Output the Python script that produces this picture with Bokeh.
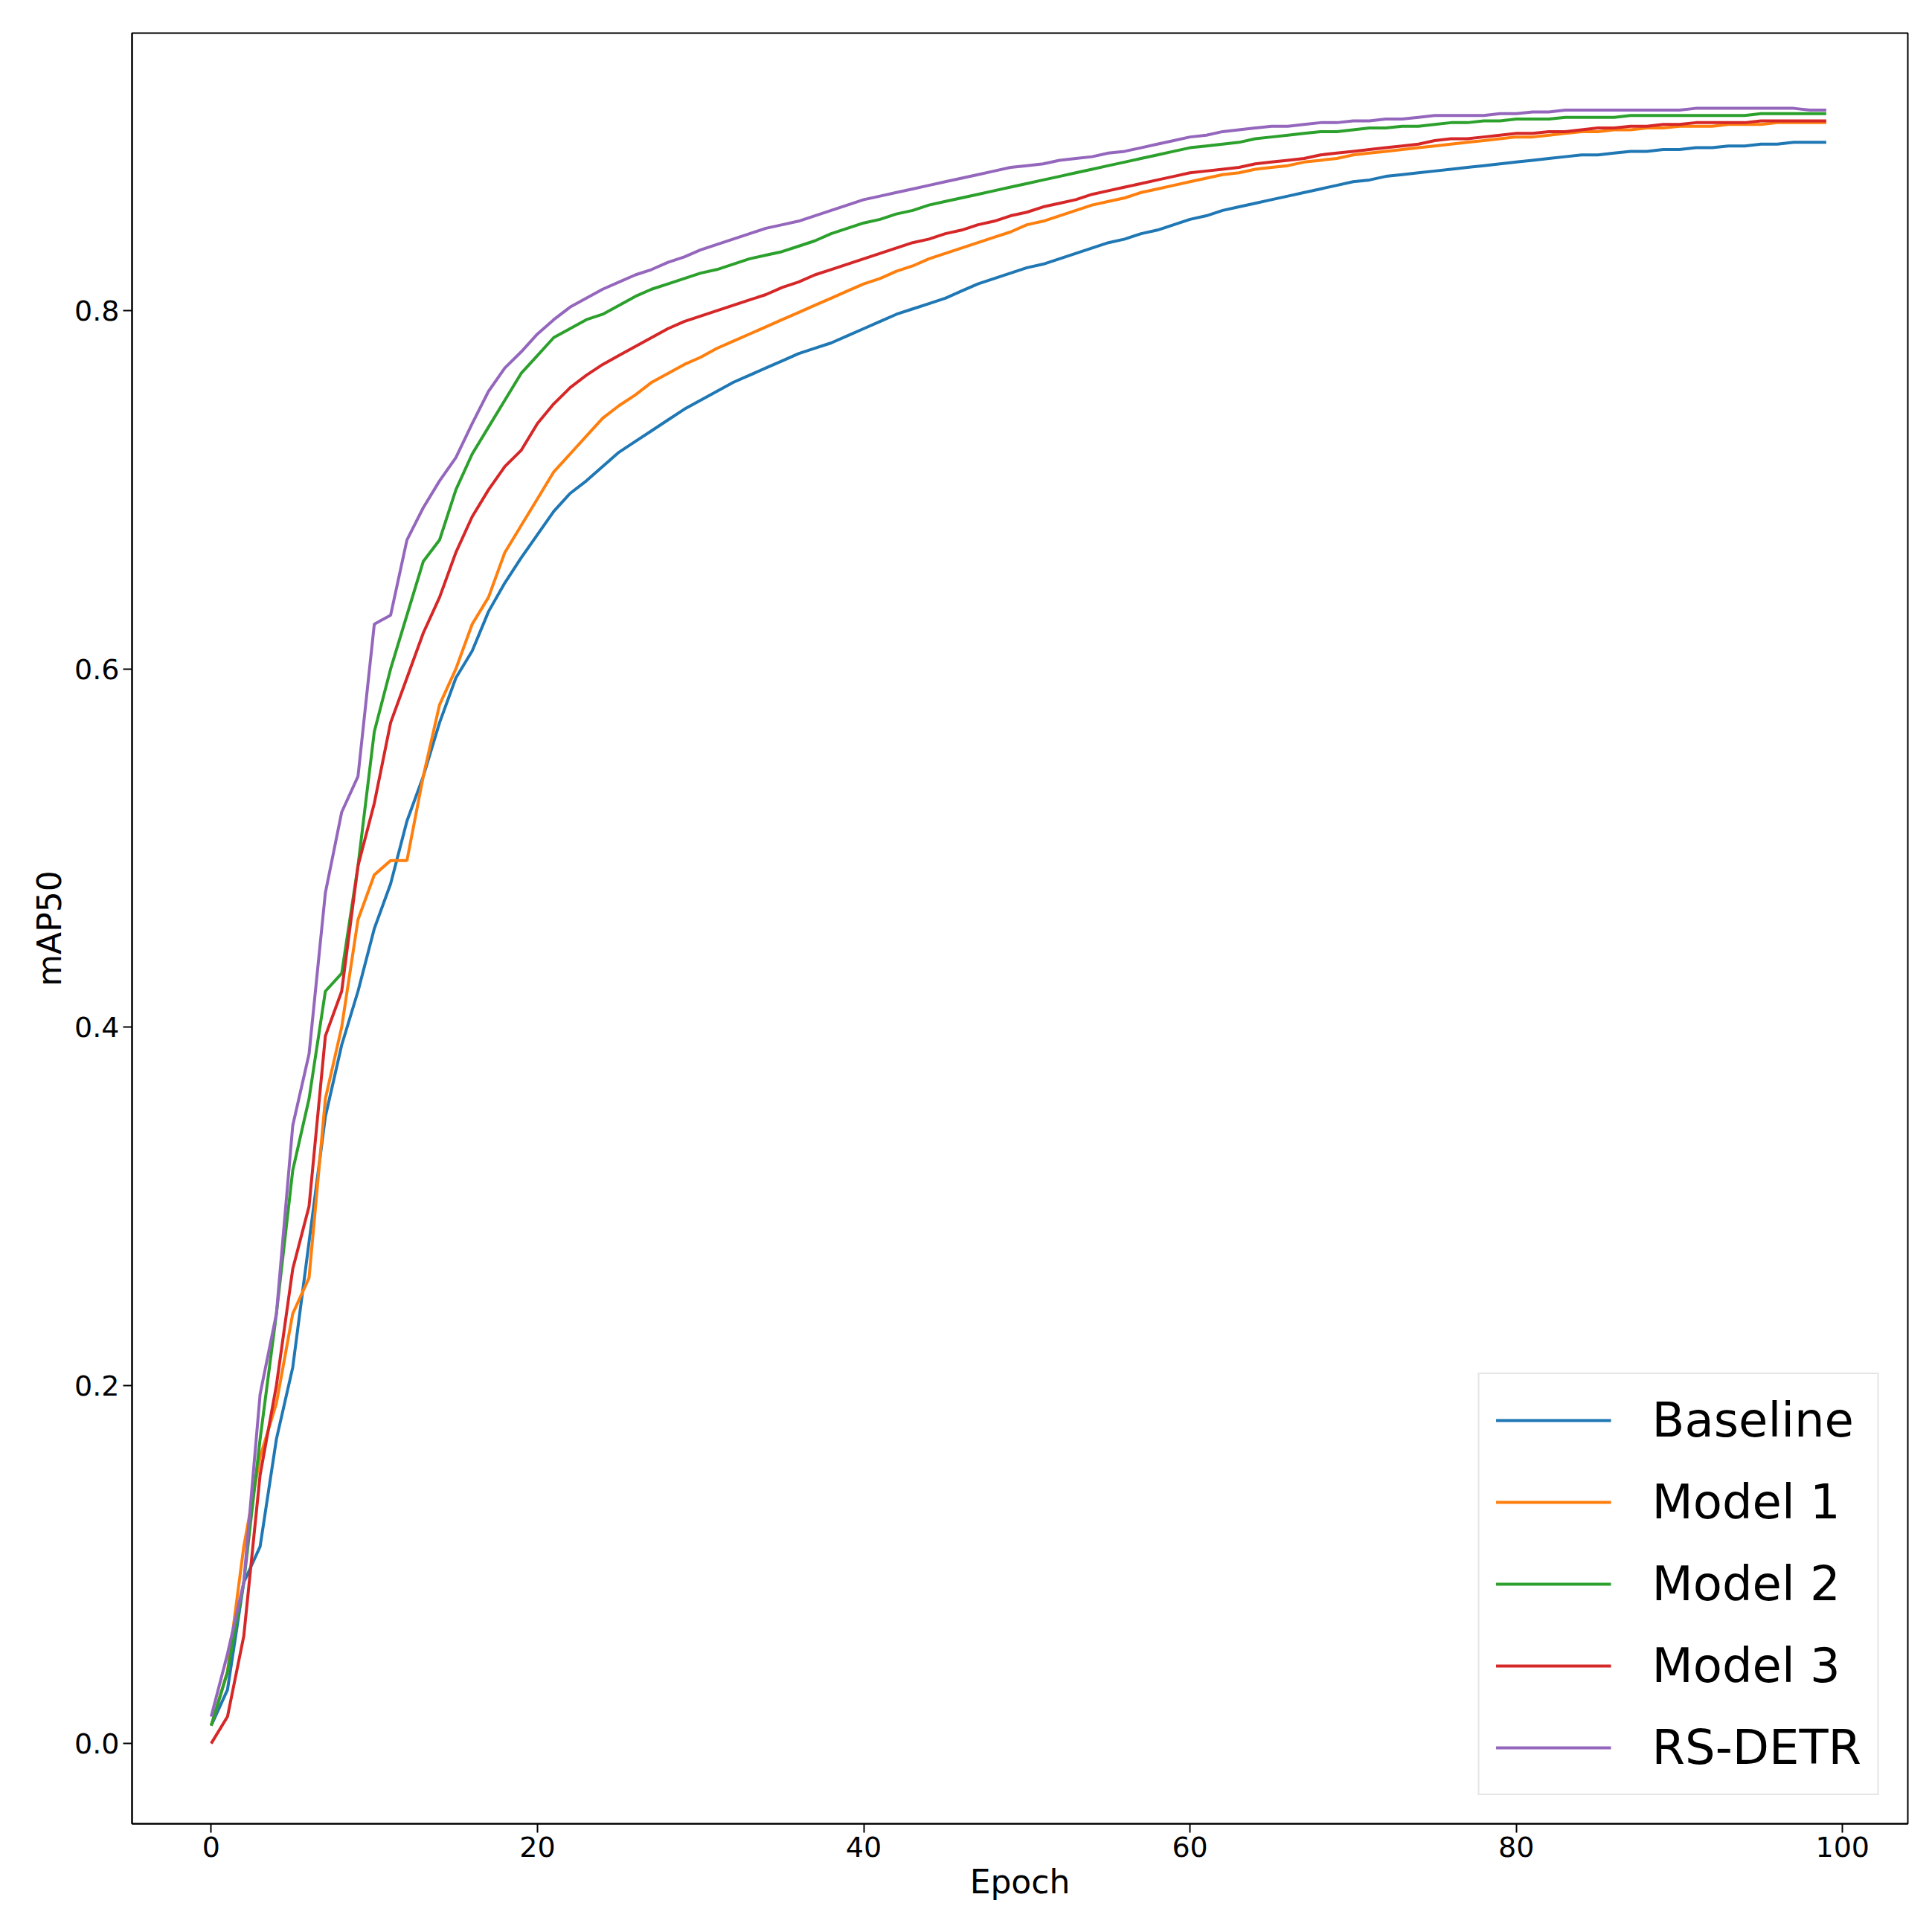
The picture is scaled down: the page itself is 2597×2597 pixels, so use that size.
from bokeh.plotting import figure
from bokeh.models import Range1d, Legend, LegendItem, FixedTicker, CustomJSTickFormatter
from bokeh.embed import file_html
from bokeh.resources import INLINE

epochs = list(range(100))
baseline = [0.010,0.030,0.090,0.110,0.170,0.210,0.280,0.350,0.390,0.420,
0.455,0.480,0.515,0.540,0.570,0.595,0.610,0.632,0.648,0.662,
0.675,0.688,0.698,0.705,0.713,0.721,0.727,0.733,0.739,0.745,
0.750,0.755,0.760,0.764,0.768,0.772,0.776,0.779,0.782,0.786,
0.790,0.794,0.798,0.801,0.804,0.807,0.811,0.815,0.818,0.821,
0.824,0.826,0.829,0.832,0.835,0.838,0.840,0.843,0.845,0.848,
0.851,0.853,0.856,0.858,0.860,0.862,0.864,0.866,0.868,0.870,
0.872,0.873,0.875,0.876,0.877,0.878,0.879,0.880,0.881,0.882,
0.883,0.884,0.885,0.886,0.887,0.887,0.888,0.889,0.889,0.890,
0.890,0.891,0.891,0.892,0.892,0.893,0.893,0.894,0.894,0.894]
model1 = [0.010,0.040,0.110,0.160,0.190,0.240,0.260,0.360,0.400,0.460,
0.485,0.493,0.493,0.540,0.580,0.600,0.625,0.640,0.665,0.680,
0.695,0.710,0.720,0.730,0.740,0.747,0.753,0.760,0.765,0.770,
0.774,0.779,0.783,0.787,0.791,0.795,0.799,0.803,0.807,0.811,
0.815,0.818,0.822,0.825,0.829,0.832,0.835,0.838,0.841,0.844,
0.848,0.850,0.853,0.856,0.859,0.861,0.863,0.866,0.868,0.870,
0.872,0.874,0.876,0.877,0.879,0.880,0.881,0.883,0.884,0.885,
0.887,0.888,0.889,0.890,0.891,0.892,0.893,0.894,0.895,0.896,
0.897,0.897,0.898,0.899,0.900,0.900,0.901,0.901,0.902,0.902,
0.903,0.903,0.903,0.904,0.904,0.904,0.905,0.905,0.905,0.905]
model2 = [0.010,0.040,0.090,0.170,0.240,0.320,0.360,0.420,0.430,0.490,
0.565,0.600,0.630,0.660,0.672,0.700,0.720,0.735,0.750,0.765,
0.775,0.785,0.790,0.795,0.798,0.803,0.808,0.812,0.815,0.818,
0.821,0.823,0.826,0.829,0.831,0.833,0.836,0.839,0.843,0.846,
0.849,0.851,0.854,0.856,0.859,0.861,0.863,0.865,0.867,0.869,
0.871,0.873,0.875,0.877,0.879,0.881,0.883,0.885,0.887,0.889,
0.891,0.892,0.893,0.894,0.896,0.897,0.898,0.899,0.900,0.900,
0.901,0.902,0.902,0.903,0.903,0.904,0.905,0.905,0.906,0.906,
0.907,0.907,0.907,0.908,0.908,0.908,0.908,0.909,0.909,0.909,
0.909,0.909,0.909,0.909,0.909,0.910,0.910,0.910,0.910,0.910]
model3 = [0.000,0.015,0.060,0.150,0.200,0.265,0.300,0.395,0.420,0.490,
0.525,0.570,0.595,0.620,0.640,0.665,0.685,0.700,0.713,0.722,
0.737,0.748,0.757,0.764,0.770,0.775,0.780,0.785,0.790,0.794,
0.797,0.800,0.803,0.806,0.809,0.813,0.816,0.820,0.823,0.826,
0.829,0.832,0.835,0.838,0.840,0.843,0.845,0.848,0.850,0.853,
0.855,0.858,0.860,0.862,0.865,0.867,0.869,0.871,0.873,0.875,
0.877,0.878,0.879,0.880,0.882,0.883,0.884,0.885,0.887,0.888,
0.889,0.890,0.891,0.892,0.893,0.895,0.896,0.896,0.897,0.898,
0.899,0.899,0.900,0.900,0.901,0.902,0.902,0.903,0.903,0.904,
0.904,0.905,0.905,0.905,0.905,0.906,0.906,0.906,0.906,0.906]
rsdetr = [0.015,0.050,0.090,0.195,0.240,0.345,0.385,0.475,0.520,0.540,
0.625,0.630,0.672,0.690,0.705,0.718,0.737,0.755,0.768,0.777,
0.787,0.795,0.802,0.807,0.812,0.816,0.820,0.823,0.827,0.830,
0.834,0.837,0.840,0.843,0.846,0.848,0.850,0.853,0.856,0.859,
0.862,0.864,0.866,0.868,0.870,0.872,0.874,0.876,0.878,0.880,
0.881,0.882,0.884,0.885,0.886,0.888,0.889,0.891,0.893,0.895,
0.897,0.898,0.900,0.901,0.902,0.903,0.903,0.904,0.905,0.905,
0.906,0.906,0.907,0.907,0.908,0.909,0.909,0.909,0.909,0.910,
0.910,0.911,0.911,0.912,0.912,0.912,0.912,0.912,0.912,0.912,
0.912,0.913,0.913,0.913,0.913,0.913,0.913,0.913,0.912,0.912]

names = ["Baseline", "Model 1", "Model 2", "Model 3", "RS-DETR"]
series = [baseline, model1, model2, model3, rsdetr]
colors = ["#1f77b4", "#ff7f0e", "#2ca02c", "#d62728", "#9467bd"]

p = figure(width=2580, height=2580, output_backend="svg", toolbar_location=None,
           x_range=Range1d(-4.85, 104.0), y_range=Range1d(-0.0448, 0.955))
p.min_border_left = 177
p.min_border_right = 16
p.min_border_top = 44
p.min_border_bottom = 129
p.grid.visible = False
p.outline_line_color = "black"
p.outline_line_width = 2
p.xaxis.ticker = FixedTicker(ticks=[0, 20, 40, 60, 80, 100])
p.yaxis.ticker = FixedTicker(ticks=[0.0, 0.2, 0.4, 0.6, 0.8])
p.yaxis.formatter = CustomJSTickFormatter(code="return tick.toFixed(1);")
for ax in (p.xaxis, p.yaxis):
    ax.major_label_text_font = "DejaVu Sans"
    ax.major_label_text_font_size = "38px"
    ax.major_label_text_color = "black"
    ax.axis_label_text_font = "DejaVu Sans"
    ax.axis_label_text_font_size = "44px"
    ax.axis_label_text_color = "black"
    ax.axis_label_text_font_style = "normal"
    ax.minor_tick_line_color = None
    ax.major_tick_out = 12
    ax.major_tick_in = 0
    ax.major_tick_line_width = 2
    ax.axis_line_width = 2
p.xaxis.axis_label = "Epoch"
p.yaxis.axis_label = "mAP50"

items = []
for n, s, c in zip(names, series, colors):
    r = p.line(epochs, s, line_color=c, line_width=4)
    items.append(LegendItem(label=n, renderers=[r]))
leg = Legend(items=items, location="bottom_right")
leg.label_text_font = "DejaVu Sans"
leg.label_text_font_size = "64px"
leg.label_text_color = "black"
leg.glyph_width = 155
leg.glyph_height = 80
leg.label_standoff = 55
leg.spacing = 30
leg.padding = 22
leg.margin = 38
leg.border_line_color = "#cccccc"
leg.border_line_width = 2
leg.background_fill_alpha = 0.8
p.add_layout(leg)

open("out.html", "w").write(file_html(p, INLINE))
